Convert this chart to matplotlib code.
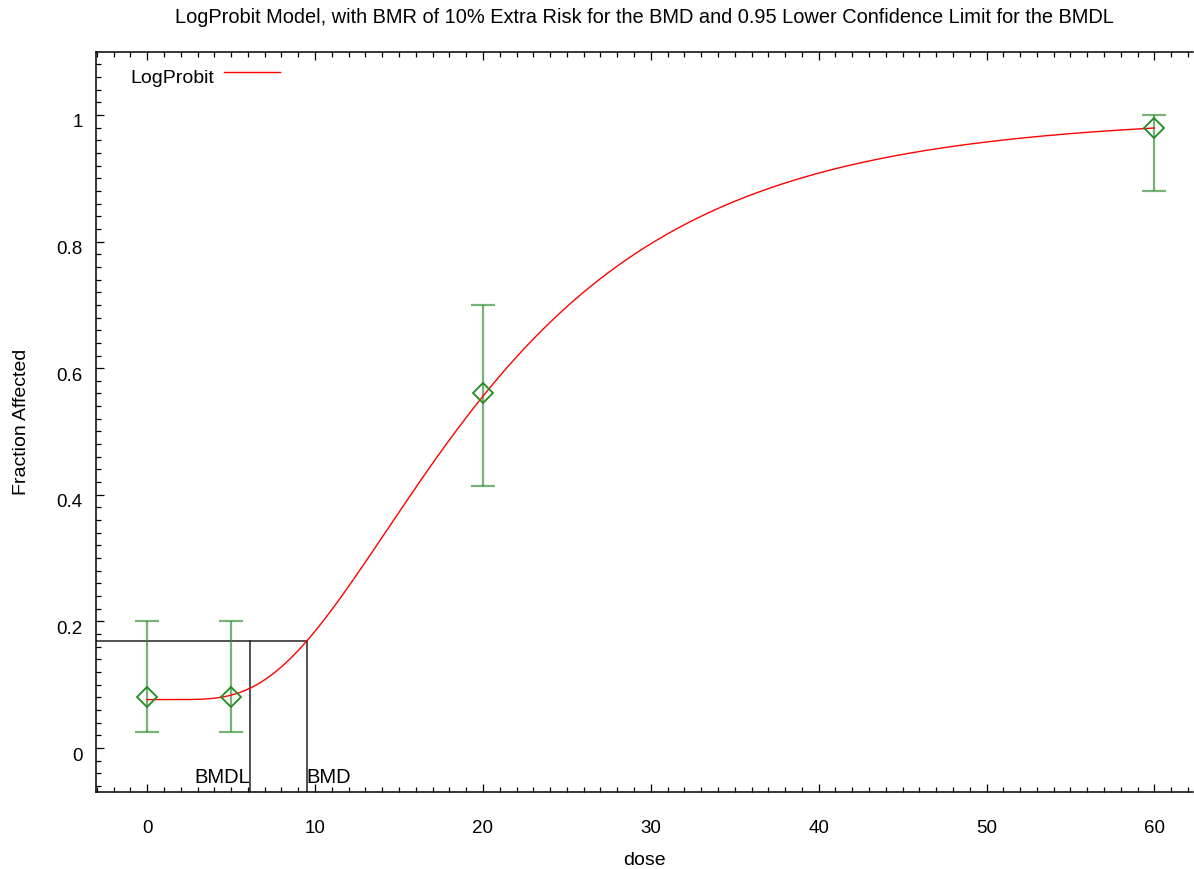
import math
import numpy as np
import matplotlib
matplotlib.use("Agg")
import matplotlib.pyplot as plt
import matplotlib.transforms as mtransforms
from matplotlib.ticker import MultipleLocator, FuncFormatter

plt.rcParams['font.family'] = ['Liberation Sans', 'DejaVu Sans']

# Observed dose-group data
dose = [0, 5, 20, 60]
frac_affected = [0.08, 0.08, 0.56, 0.98]
ci_lower = [0.025, 0.025, 0.414, 0.880]
ci_upper = [0.200, 0.200, 0.700, 1.000]

# Fitted LogProbit model: P(d) = c + (1 - c) * Phi(a + b * ln d)
background = 0.0765
intercept = -5.30
slope = 1.785

# Benchmark dose results
bmr_level = 0.169
bmd = 9.5
bmdl = 6.13

title = ("LogProbit Model, with BMR of 10% Extra Risk for the BMD "
         "and 0.95 Lower Confidence Limit for the BMDL")


def logprobit(d):
    out = []
    for v in d:
        if v <= 0:
            out.append(background)
        else:
            z = intercept + slope * math.log(v)
            phi = 0.5 * (1.0 + math.erf(z / math.sqrt(2.0)))
            out.append(background + (1.0 - background) * phi)
    return np.array(out)


fig = plt.figure(figsize=(11.94, 8.69), dpi=100)
ax = fig.add_axes([0.0804, 0.0886, 0.9188, 0.8516])

grid = np.linspace(0, 60, 600)
ax.plot(grid, logprobit(grid), color='red', lw=1.0, zorder=3)

green = '#2e8b2e'
yerr = [np.array(frac_affected) - np.array(ci_lower),
        np.array(ci_upper) - np.array(frac_affected)]
ax.errorbar(dose, frac_affected, yerr=yerr, fmt='none', ecolor=green,
            alpha=0.65, elinewidth=1.6, capsize=8.6, capthick=1.6, zorder=2)
ax.plot(dose, frac_affected, linestyle='none', marker='D', markersize=10,
        markerfacecolor='none', markeredgecolor='#228B22', markeredgewidth=1.3,
        zorder=4)

xmin, xmax = -3.05, 62.3
ymin, ymax = -0.0695, 1.0995

# BMR / BMD / BMDL guide lines
ax.plot([xmin, bmd], [bmr_level, bmr_level], color='#222222', lw=1.1, zorder=1)
ax.plot([bmdl, bmdl], [ymin, bmr_level], color='#222222', lw=1.1, zorder=1)
ax.plot([bmd, bmd], [ymin, bmr_level], color='#222222', lw=1.1, zorder=1)
ax.text(bmdl, -0.047, 'BMDL', ha='right', va='center', fontsize=14.5)
ax.text(bmd, -0.047, 'BMD', ha='left', va='center', fontsize=14.5)

ax.set_xlim(xmin, xmax)
ax.set_ylim(ymin, ymax)

ax.xaxis.set_major_locator(MultipleLocator(10))
ax.xaxis.set_minor_locator(MultipleLocator(1))
ax.yaxis.set_major_locator(MultipleLocator(0.2))
ax.yaxis.set_minor_locator(MultipleLocator(0.02))
ax.yaxis.set_major_formatter(FuncFormatter(lambda v, p: f"{v:g}" if abs(v) > 1e-9 else "0"))

ax.tick_params(axis='both', which='both', direction='in', top=True, right=False,
               width=0.9, colors='black', labelsize=13.5)
ax.tick_params(axis='both', which='major', length=6)
ax.tick_params(axis='both', which='minor', length=3.5)
ax.tick_params(axis='x', which='major', pad=20)
ax.tick_params(axis='y', which='major', pad=9.5)

# y tick labels sit slightly below their ticks
shift = mtransforms.ScaledTranslation(0, -6 / 100, fig.dpi_scale_trans)
for lbl in ax.get_yticklabels():
    lbl.set_transform(lbl.get_transform() + shift)

ax.spines['right'].set_visible(False)
for s in ('left', 'bottom', 'top'):
    ax.spines[s].set_linewidth(1.1)

ax.set_xlabel('dose', fontsize=14, labelpad=11)
ax.set_ylabel('Fraction Affected', fontsize=14)
ax.yaxis.set_label_coords(-0.0605, 0.5)
ax.set_title(title, fontsize=14.4, pad=21)

# Legend entry: label followed by line sample
ax.text(0.031, 0.9635, 'LogProbit', transform=ax.transAxes, ha='left',
        va='center', fontsize=14)
ax.plot([0.1167, 0.1677], [0.973, 0.973], transform=ax.transAxes,
        color='red', lw=1.0, clip_on=False)

fig.savefig('out.png', dpi=100)
